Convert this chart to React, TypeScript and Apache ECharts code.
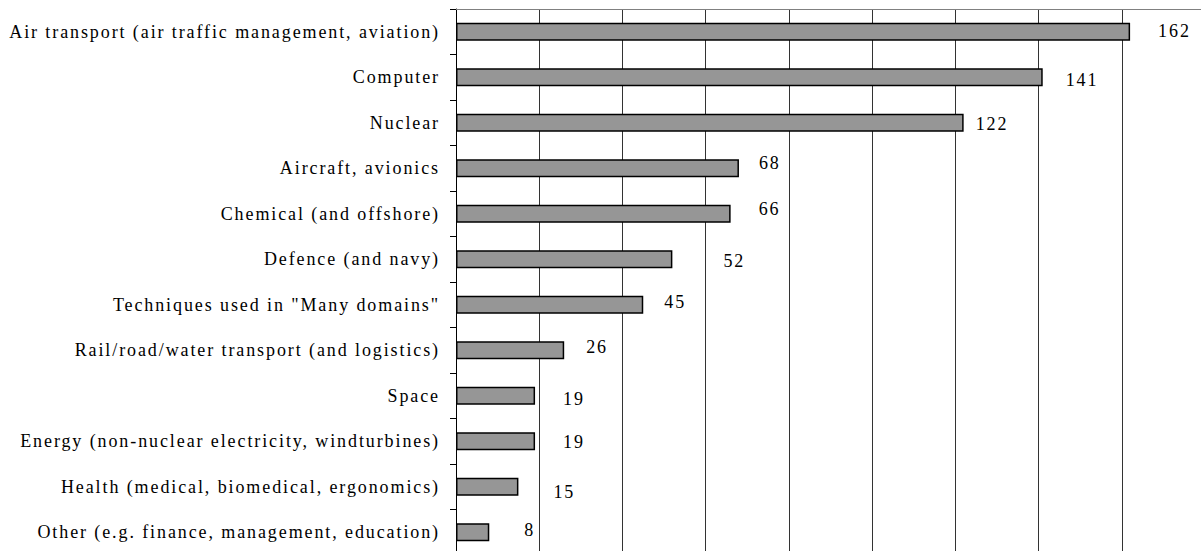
import React, { useEffect, useRef } from "react";
import * as echarts from "echarts";

const categories = [
  "Air transport (air traffic management, aviation)",
  "Computer",
  "Nuclear",
  "Aircraft, avionics",
  "Chemical (and offshore)",
  "Defence (and navy)",
  'Techniques used in "Many domains"',
  "Rail/road/water transport (and logistics)",
  "Space",
  "Energy (non-nuclear electricity, windturbines)",
  "Health (medical, biomedical, ergonomics)",
  "Other (e.g. finance, management, education)",
];

const counts = [162, 141, 122, 68, 66, 52, 45, 26, 19, 19, 15, 8];

const axisMin = 0;
const axisMax = 180;
const axisStep = 20;

// label nudges (style only): [dx from bar end, dy]
const labelNudge: [number, number][] = [
  [28, -1], [23, 3], [12, 1], [20, -5], [28, -5], [51, 2],
  [21, -3], [22, -3], [28, 3], [28, 1], [35, 5], [35, -2],
];

export default function App() {
  const ref = useRef<HTMLDivElement>(null);
  useEffect(() => {
    if (!ref.current) return;
    const chart = echarts.init(ref.current, null, { renderer: "svg" });
    const font = "'Liberation Serif', 'Times New Roman', serif";
    chart.setOption({
      animation: false,
      textStyle: { fontFamily: font, fontSize: 18, color: "#000" },
      grid: { left: 456, top: 9, width: 749, height: 546, containLabel: false },
      xAxis: {
        type: "value",
        position: "top",
        min: axisMin,
        max: axisMax,
        interval: axisStep,
        axisLine: { show: true, lineStyle: { color: "#808080", width: 1 } },
        axisTick: { show: false },
        axisLabel: { show: false },
        splitLine: { show: true, lineStyle: { color: "#333", width: 1 } },
      },
      yAxis: {
        type: "category",
        data: categories,
        inverse: true,
        axisLine: { show: true, lineStyle: { color: "#000", width: 1 } },
        axisTick: { show: true, length: 6, lineStyle: { color: "#000" } },
        axisLabel: {
          margin: 16,
          fontFamily: font,
          fontSize: 18,
          color: "#000",
        },
        splitLine: { show: false },
      },
      series: [
        {
          type: "bar",
          barWidth: 18,
          data: counts.map((v, i) => ({
            value: v,
            label: { offset: labelNudge[i] },
          })),
          itemStyle: { color: "#969696", borderColor: "#000", borderWidth: 1.5 },
          label: {
            show: true,
            position: "right",
            distance: 0,
            fontFamily: font,
            fontSize: 18,
            color: "#000",
          },
        },
      ],
    });
    return () => chart.dispose();
  }, []);
  return (
    <div
      style={{
        position: "fixed",
        left: 0,
        top: 0,
        width: 1201,
        height: 551,
        overflow: "hidden",
        background: "#fff",
      }}
    >
      <style>{`.chart-root text { letter-spacing: 1.9px; }`}</style>
      <div ref={ref} className="chart-root" style={{ width: 1220, height: 570 }} />
    </div>
  );
}
